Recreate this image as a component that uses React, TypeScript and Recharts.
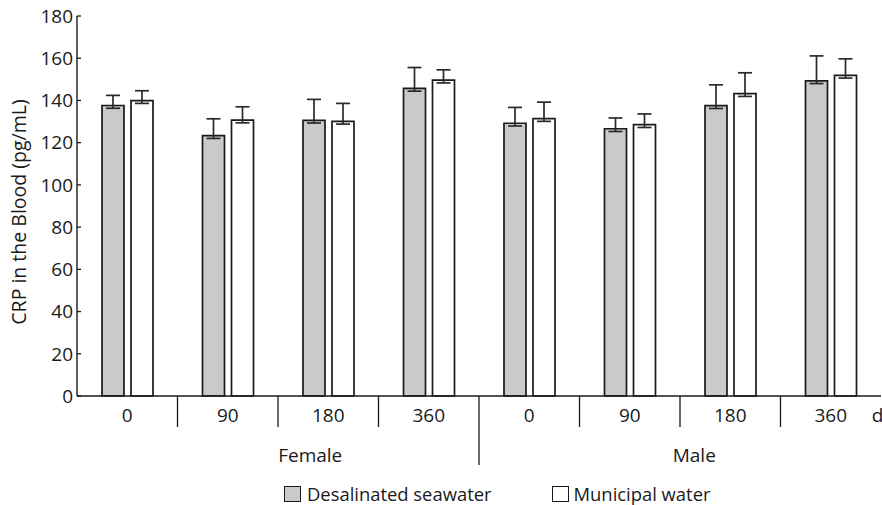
import React from 'react';
import { BarChart, Bar, XAxis, YAxis, ErrorBar, Legend, Label } from 'recharts';

const categories = ['0', '90', '180', '360', '0', '90', '180', '360'];
const groups = ['Female', 'Female', 'Female', 'Female', 'Male', 'Male', 'Male', 'Male'];
const desalinated = [137.6, 123.3, 130.6, 145.7, 129.2, 126.6, 137.5, 149.3];
const municipal = [139.9, 130.7, 130.1, 149.6, 131.4, 128.5, 143.2, 151.9];
const desalinatedErrUp = [4.8, 8.0, 9.9, 9.9, 7.5, 5.1, 9.9, 11.8];
const municipalErrUp = [4.7, 6.3, 8.5, 4.9, 7.8, 5.1, 9.9, 7.8];
const errDown = 1.3;
const yTicks = [0, 20, 40, 60, 80, 100, 120, 140, 160, 180];
const seriesNames = ['Desalinated seawater', 'Municipal water'];
const unitLabel = 'd';
const yLabel = 'CRP in the Blood (pg/mL)';

const W = 882;
const H = 505;
const MARGIN = { top: 16, right: 1, left: 0, bottom: 0 };
const Y_W = 77;
const X_H = 109;
const BAND = (W - MARGIN.left - MARGIN.right - Y_W) / categories.length;

const FONT = '"Open Sans", sans-serif';
const INK = '#1a1a1a';
const GRAY = '#c9cac9';
const TICK_FS = 19;

const data = categories.map((c, i) => ({
  key: `${groups[i]}-${c}-${i}`,
  desal: desalinated[i],
  muni: municipal[i],
  desalErr: [errDown, desalinatedErrUp[i]],
  muniErr: [errDown, municipalErrUp[i]],
}));

const XTick = (props: any) => {
  const { x, y, index } = props;
  const half = BAND / 2;
  const isGroupStart = index > 0 && groups[index] !== groups[index - 1];
  return (
    <g>
      <text x={x} y={y + 25.5} textAnchor="middle" fontFamily={FONT} fontSize={TICK_FS} fill={INK}>
        {categories[index]}
      </text>
      {index > 0 && (
        <line
          x1={x - half}
          x2={x - half}
          y1={y}
          y2={isGroupStart ? y + 69 : y + 31}
          stroke={INK}
          strokeWidth={1.3}
        />
      )}
      {index === 0 && (
        <text x={x + 183} y={y + 65.5} textAnchor="middle" fontFamily={FONT} fontSize={TICK_FS} fill={INK}>
          {groups[0]}
        </text>
      )}
      {index === 4 && (
        <text x={x + 165} y={y + 65.5} textAnchor="middle" fontFamily={FONT} fontSize={TICK_FS} fill={INK}>
          {groups[4]}
        </text>
      )}
      {index === categories.length - 1 && (
        <text x={x + 41} y={y + 25.5} textAnchor="start" fontFamily={FONT} fontSize={TICK_FS} fill={INK}>
          {unitLabel}
        </text>
      )}
    </g>
  );
};

const LegendContent = () => (
  <div style={{ display: 'flex', alignItems: 'center', fontFamily: FONT, fontSize: 18.4, color: INK, lineHeight: '20px' }}>
    <span style={{ display: 'inline-block', width: 15, height: 14, background: GRAY, border: `1.5px solid ${INK}`, marginRight: 6 }} />
    <span>{seriesNames[0]}</span>
    <span style={{ display: 'inline-block', width: 15, height: 14, background: '#fff', border: `1.5px solid ${INK}`, marginLeft: 60, marginRight: 5 }} />
    <span>{seriesNames[1]}</span>
  </div>
);

export default function App() {
  return (
    <div style={{ position: 'absolute', left: 0, top: 0, width: W, height: H, background: '#fff' }}>
      <BarChart width={W} height={H} data={data} margin={MARGIN} barGap={7} barSize={22}>
        <XAxis
          dataKey="key"
          height={X_H}
          tickLine={false}
          tickSize={0}
          tickMargin={0}
          axisLine={{ stroke: INK, strokeWidth: 1.4 }}
          tick={<XTick />}
          interval={0}
        />
        <YAxis
          width={Y_W}
          domain={[0, 180]}
          ticks={yTicks}
          interval={0}
          tickSize={-4}
          tickMargin={8}
          tickLine={{ stroke: INK, strokeWidth: 1.3 }}
          axisLine={{ stroke: INK, strokeWidth: 1.4 }}
          tick={{ fontFamily: FONT, fontSize: TICK_FS, fill: INK }}
        >
          <Label
            content={(p: any) => {
              const vb = p.viewBox || { x: 0, y: 16, height: 380 };
              const cx = vb.x + 18;
              const cy = vb.y + vb.height / 2 + 6;
              return (
                <text
                  x={cx}
                  y={cy}
                  transform={`rotate(-90 ${cx} ${cy})`}
                  textAnchor="middle"
                  dominantBaseline="central"
                  fontFamily={FONT}
                  fontSize={19.5}
                  fill={INK}
                >
                  {yLabel}
                </text>
              );
            }}
          />
        </YAxis>
        <Legend
          layout="horizontal"
          verticalAlign="middle"
          align="center"
          content={<LegendContent />}
          wrapperStyle={{ top: 484, left: 284, width: 520, height: 22 }}
        />
        <Bar dataKey="desal" name={seriesNames[0]} fill={GRAY} stroke={INK} strokeWidth={1.7} isAnimationActive={false}>
          <ErrorBar dataKey="desalErr" width={7} stroke="#2a2a2a" strokeWidth={1.7} direction="y" isAnimationActive={false} />
        </Bar>
        <Bar dataKey="muni" name={seriesNames[1]} fill="#ffffff" stroke={INK} strokeWidth={1.7} isAnimationActive={false}>
          <ErrorBar dataKey="muniErr" width={7} stroke="#2a2a2a" strokeWidth={1.7} direction="y" isAnimationActive={false} />
        </Bar>
      </BarChart>
    </div>
  );
}
